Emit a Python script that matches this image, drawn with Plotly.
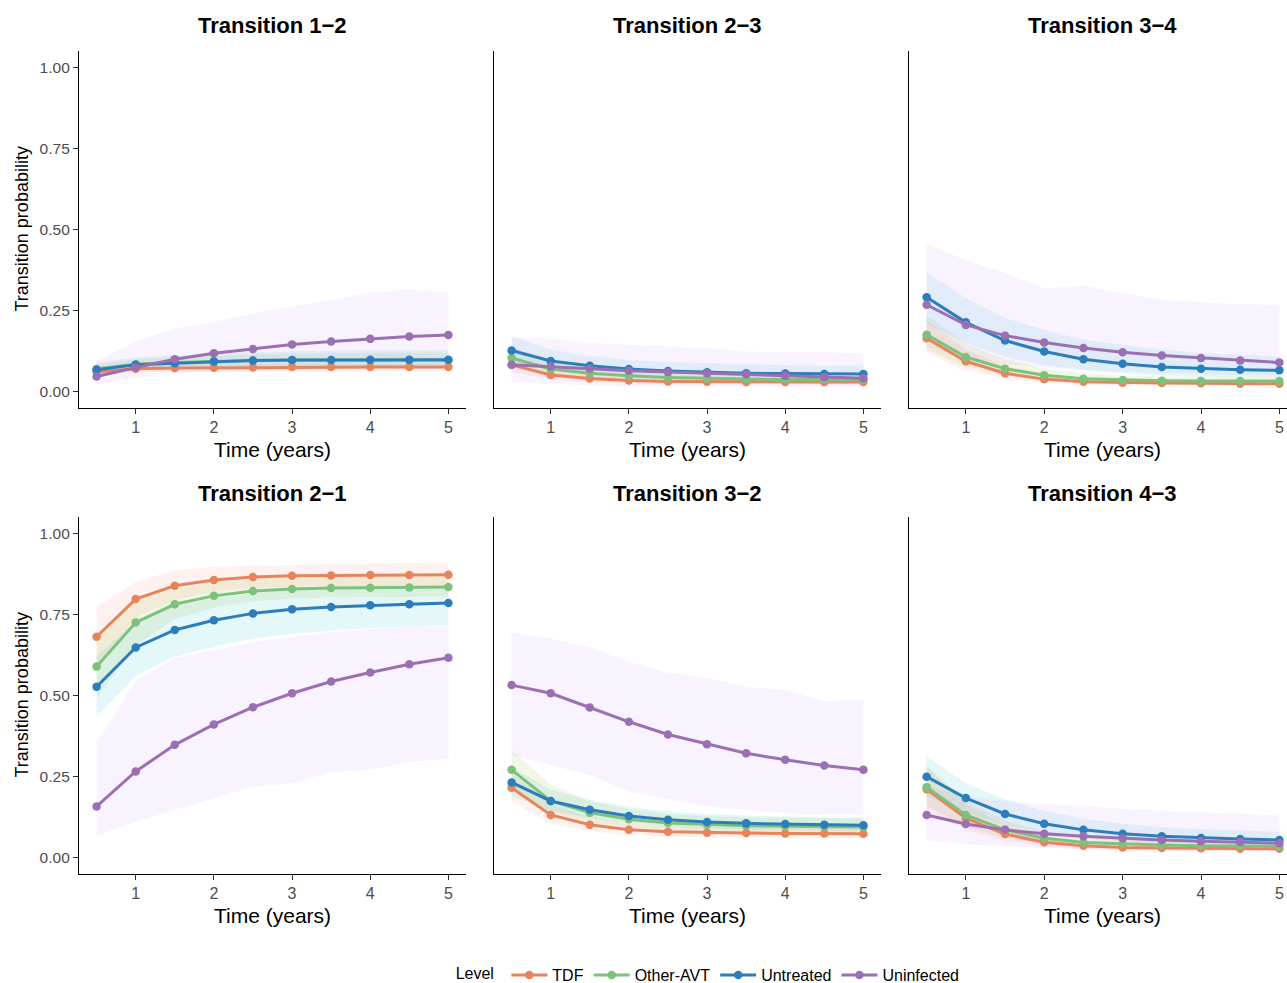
import plotly.graph_objects as go

time = [0.5, 1, 1.5, 2, 2.5, 3, 3.5, 4, 4.5, 5]
levels = ["TDF", "Other-AVT", "Untreated", "Uninfected"]
colors = ["#E8845C", "#7DC17C", "#2C7DBB", "#9B70B2"]
ribbon_colors = ["#F8766D", "#7CAE00", "#00BFC4", "#C77CFF"]
panel_titles = ["Transition 1\u22122", "Transition 2\u22123", "Transition 3\u22124",
                "Transition 2\u22121", "Transition 3\u22122", "Transition 4\u22123"]
x_ticks = [1, 2, 3, 4, 5]
y_ticks = [0, 0.25, 0.5, 0.75, 1.0]
y_tick_labels = ["0.00", "0.25", "0.50", "0.75", "1.00"]

# ---- Transition 1-2
t12_tdf = [0.062, 0.071, 0.073, 0.074, 0.075, 0.076, 0.076, 0.076, 0.076, 0.076]
t12_tdf_lo = [0.050, 0.060, 0.063, 0.064, 0.065, 0.065, 0.065, 0.065, 0.065, 0.065]
t12_tdf_hi = [0.075, 0.083, 0.085, 0.086, 0.087, 0.088, 0.088, 0.088, 0.088, 0.088]
t12_oth = [0.070, 0.085, 0.090, 0.094, 0.096, 0.097, 0.097, 0.097, 0.097, 0.097]
t12_oth_lo = [0.055, 0.070, 0.075, 0.078, 0.080, 0.080, 0.080, 0.080, 0.080, 0.080]
t12_oth_hi = [0.085, 0.100, 0.108, 0.113, 0.116, 0.118, 0.120, 0.120, 0.120, 0.120]
t12_unt = [0.068, 0.083, 0.088, 0.093, 0.096, 0.098, 0.098, 0.099, 0.099, 0.099]
t12_unt_lo = [0.050, 0.065, 0.070, 0.073, 0.075, 0.076, 0.076, 0.077, 0.077, 0.077]
t12_unt_hi = [0.090, 0.105, 0.112, 0.118, 0.122, 0.125, 0.127, 0.128, 0.128, 0.128]
t12_uni = [0.047, 0.075, 0.100, 0.119, 0.132, 0.146, 0.155, 0.163, 0.170, 0.175]
t12_uni_lo = [0.022, 0.045, 0.058, 0.063, 0.066, 0.068, 0.069, 0.070, 0.070, 0.070]
t12_uni_hi = [0.095, 0.155, 0.194, 0.216, 0.242, 0.262, 0.283, 0.306, 0.314, 0.306]

# ---- Transition 2-3
t23_tdf = [0.083, 0.052, 0.041, 0.035, 0.032, 0.031, 0.030, 0.030, 0.030, 0.030]
t23_tdf_lo = [0.060, 0.038, 0.030, 0.026, 0.024, 0.023, 0.022, 0.022, 0.022, 0.022]
t23_tdf_hi = [0.110, 0.070, 0.055, 0.047, 0.043, 0.041, 0.040, 0.040, 0.040, 0.040]
t23_oth = [0.104, 0.070, 0.057, 0.049, 0.044, 0.041, 0.039, 0.038, 0.037, 0.037]
t23_oth_lo = [0.075, 0.052, 0.042, 0.036, 0.032, 0.030, 0.029, 0.028, 0.028, 0.028]
t23_oth_hi = [0.140, 0.090, 0.075, 0.065, 0.058, 0.055, 0.052, 0.050, 0.049, 0.049]
t23_unt = [0.127, 0.095, 0.080, 0.070, 0.064, 0.060, 0.057, 0.056, 0.055, 0.055]
t23_unt_lo = [0.090, 0.068, 0.058, 0.050, 0.046, 0.043, 0.041, 0.040, 0.039, 0.039]
t23_unt_hi = [0.172, 0.130, 0.110, 0.098, 0.092, 0.088, 0.084, 0.082, 0.080, 0.080]
t23_uni = [0.083, 0.078, 0.071, 0.065, 0.061, 0.057, 0.054, 0.049, 0.045, 0.042]
t23_uni_lo = [0.030, 0.025, 0.020, 0.018, 0.017, 0.016, 0.015, 0.015, 0.015, 0.015]
t23_uni_hi = [0.167, 0.165, 0.150, 0.145, 0.140, 0.134, 0.124, 0.124, 0.122, 0.119]

# ---- Transition 3-4
t34_tdf = [0.165, 0.094, 0.057, 0.039, 0.031, 0.028, 0.027, 0.026, 0.025, 0.025]
t34_tdf_lo = [0.120, 0.065, 0.040, 0.028, 0.022, 0.020, 0.019, 0.018, 0.018, 0.018]
t34_tdf_hi = [0.220, 0.130, 0.080, 0.055, 0.044, 0.040, 0.038, 0.036, 0.035, 0.035]
t34_oth = [0.176, 0.107, 0.071, 0.051, 0.040, 0.036, 0.034, 0.033, 0.033, 0.033]
t34_oth_lo = [0.130, 0.077, 0.050, 0.036, 0.028, 0.025, 0.024, 0.023, 0.023, 0.023]
t34_oth_hi = [0.235, 0.148, 0.100, 0.072, 0.056, 0.050, 0.047, 0.046, 0.046, 0.046]
t34_unt = [0.291, 0.214, 0.158, 0.124, 0.100, 0.086, 0.076, 0.071, 0.068, 0.066]
t34_unt_lo = [0.210, 0.150, 0.108, 0.082, 0.066, 0.056, 0.050, 0.046, 0.044, 0.043]
t34_unt_hi = [0.368, 0.288, 0.227, 0.191, 0.160, 0.144, 0.130, 0.119, 0.113, 0.109]
t34_uni = [0.268, 0.206, 0.173, 0.152, 0.135, 0.122, 0.112, 0.104, 0.096, 0.090]
t34_uni_lo = [0.140, 0.100, 0.085, 0.075, 0.068, 0.062, 0.058, 0.054, 0.051, 0.050]
t34_uni_hi = [0.455, 0.406, 0.365, 0.319, 0.327, 0.304, 0.283, 0.275, 0.270, 0.268]

# ---- Transition 2-1
t21_tdf = [0.681, 0.797, 0.838, 0.856, 0.865, 0.869, 0.870, 0.871, 0.871, 0.872]
t21_tdf_lo = [0.590, 0.740, 0.795, 0.820, 0.830, 0.835, 0.837, 0.838, 0.838, 0.838]
t21_tdf_hi = [0.773, 0.850, 0.886, 0.896, 0.900, 0.903, 0.905, 0.907, 0.908, 0.910]
t21_oth = [0.589, 0.725, 0.781, 0.807, 0.822, 0.828, 0.831, 0.832, 0.833, 0.834]
t21_oth_lo = [0.490, 0.655, 0.735, 0.770, 0.790, 0.798, 0.802, 0.803, 0.804, 0.805]
t21_oth_hi = [0.680, 0.790, 0.830, 0.850, 0.860, 0.865, 0.867, 0.868, 0.869, 0.870]
t21_unt = [0.527, 0.648, 0.702, 0.732, 0.753, 0.766, 0.773, 0.778, 0.781, 0.785]
t21_unt_lo = [0.435, 0.560, 0.620, 0.650, 0.675, 0.690, 0.700, 0.708, 0.713, 0.716]
t21_unt_hi = [0.620, 0.730, 0.775, 0.800, 0.815, 0.825, 0.830, 0.832, 0.834, 0.835]
t21_uni = [0.158, 0.266, 0.348, 0.411, 0.464, 0.507, 0.543, 0.571, 0.596, 0.616]
t21_uni_lo = [0.069, 0.110, 0.148, 0.184, 0.219, 0.230, 0.264, 0.271, 0.296, 0.304]
t21_uni_hi = [0.353, 0.545, 0.615, 0.640, 0.665, 0.680, 0.695, 0.705, 0.710, 0.712]

# ---- Transition 3-2
t32_tdf = [0.216, 0.132, 0.102, 0.086, 0.080, 0.077, 0.076, 0.075, 0.075, 0.074]
t32_tdf_lo = [0.175, 0.105, 0.082, 0.070, 0.065, 0.063, 0.062, 0.061, 0.061, 0.061]
t32_tdf_hi = [0.260, 0.165, 0.125, 0.105, 0.098, 0.094, 0.092, 0.091, 0.090, 0.090]
t32_oth = [0.271, 0.175, 0.139, 0.119, 0.107, 0.102, 0.099, 0.097, 0.096, 0.095]
t32_oth_lo = [0.210, 0.140, 0.110, 0.095, 0.085, 0.080, 0.078, 0.077, 0.076, 0.075]
t32_oth_hi = [0.332, 0.225, 0.175, 0.150, 0.135, 0.128, 0.125, 0.123, 0.122, 0.121]
t32_unt = [0.232, 0.175, 0.148, 0.129, 0.117, 0.110, 0.106, 0.104, 0.102, 0.100]
t32_unt_lo = [0.190, 0.145, 0.122, 0.106, 0.096, 0.090, 0.086, 0.084, 0.083, 0.082]
t32_unt_hi = [0.280, 0.210, 0.178, 0.157, 0.143, 0.135, 0.130, 0.127, 0.125, 0.124]
t32_uni = [0.532, 0.507, 0.463, 0.419, 0.380, 0.350, 0.322, 0.302, 0.284, 0.271]
t32_uni_lo = [0.317, 0.286, 0.255, 0.204, 0.180, 0.158, 0.148, 0.137, 0.133, 0.133]
t32_uni_hi = [0.693, 0.676, 0.648, 0.604, 0.570, 0.553, 0.527, 0.517, 0.483, 0.486]

# ---- Transition 4-3
t43_tdf = [0.211, 0.122, 0.073, 0.048, 0.037, 0.032, 0.030, 0.029, 0.028, 0.028]
t43_tdf_lo = [0.150, 0.085, 0.052, 0.034, 0.026, 0.022, 0.021, 0.020, 0.020, 0.020]
t43_tdf_hi = [0.280, 0.165, 0.100, 0.066, 0.051, 0.045, 0.042, 0.040, 0.039, 0.039]
t43_oth = [0.217, 0.132, 0.086, 0.060, 0.047, 0.042, 0.039, 0.037, 0.036, 0.035]
t43_oth_lo = [0.160, 0.095, 0.062, 0.043, 0.034, 0.030, 0.028, 0.026, 0.025, 0.025]
t43_oth_hi = [0.285, 0.175, 0.115, 0.080, 0.064, 0.057, 0.053, 0.050, 0.049, 0.048]
t43_unt = [0.250, 0.184, 0.135, 0.105, 0.086, 0.074, 0.066, 0.061, 0.058, 0.055]
t43_unt_lo = [0.190, 0.140, 0.100, 0.075, 0.060, 0.051, 0.045, 0.041, 0.039, 0.037]
t43_unt_hi = [0.312, 0.230, 0.180, 0.145, 0.120, 0.105, 0.095, 0.088, 0.084, 0.080]
t43_uni = [0.132, 0.104, 0.086, 0.074, 0.066, 0.060, 0.055, 0.051, 0.049, 0.045]
t43_uni_lo = [0.055, 0.042, 0.035, 0.030, 0.027, 0.025, 0.023, 0.022, 0.021, 0.020]
t43_uni_hi = [0.220, 0.190, 0.175, 0.165, 0.160, 0.150, 0.145, 0.140, 0.135, 0.130]

panels = [
    [(t12_tdf, t12_tdf_lo, t12_tdf_hi), (t12_oth, t12_oth_lo, t12_oth_hi),
     (t12_unt, t12_unt_lo, t12_unt_hi), (t12_uni, t12_uni_lo, t12_uni_hi)],
    [(t23_tdf, t23_tdf_lo, t23_tdf_hi), (t23_oth, t23_oth_lo, t23_oth_hi),
     (t23_unt, t23_unt_lo, t23_unt_hi), (t23_uni, t23_uni_lo, t23_uni_hi)],
    [(t34_tdf, t34_tdf_lo, t34_tdf_hi), (t34_oth, t34_oth_lo, t34_oth_hi),
     (t34_unt, t34_unt_lo, t34_unt_hi), (t34_uni, t34_uni_lo, t34_uni_hi)],
    [(t21_tdf, t21_tdf_lo, t21_tdf_hi), (t21_oth, t21_oth_lo, t21_oth_hi),
     (t21_unt, t21_unt_lo, t21_unt_hi), (t21_uni, t21_uni_lo, t21_uni_hi)],
    [(t32_tdf, t32_tdf_lo, t32_tdf_hi), (t32_oth, t32_oth_lo, t32_oth_hi),
     (t32_unt, t32_unt_lo, t32_unt_hi), (t32_uni, t32_uni_lo, t32_uni_hi)],
    [(t43_tdf, t43_tdf_lo, t43_tdf_hi), (t43_oth, t43_oth_lo, t43_oth_hi),
     (t43_unt, t43_unt_lo, t43_unt_hi), (t43_uni, t43_uni_lo, t43_uni_hi)],
]

W, H = 1287, 983
FONT = "Liberation Sans, Arial, Helvetica, sans-serif"

# panel pixel boxes (left, right) and (top, bottom)
col_px = [(79, 466), (494, 881), (909, 1287)]
row_px = [(51, 408), (517, 874)]
x_ranges = [[0.275, 5.225], [0.275, 5.225], [0.275, 5.097]]


def rgba(hexc, a):
    h = hexc.lstrip("#")
    r, g, b = int(h[0:2], 16), int(h[2:4], 16), int(h[4:6], 16)
    return f"rgba({r},{g},{b},{a})"


fig = go.Figure()
layout = {}
annotations = []

for p in range(6):
    r, c = divmod(p, 3)
    idx = p + 1
    xa = "x" if idx == 1 else f"x{idx}"
    ya = "y" if idx == 1 else f"y{idx}"
    # ribbons
    for k, (est, lo, hi) in enumerate(panels[p]):
        fig.add_trace(go.Scatter(
            x=time + time[::-1], y=hi + lo[::-1], fill="toself",
            fillcolor=rgba(ribbon_colors[k], 0.1), line=dict(width=0),
            mode="lines", hoverinfo="skip", showlegend=False,
            xaxis=xa, yaxis=ya))
    # lines + points
    for k, (est, lo, hi) in enumerate(panels[p]):
        fig.add_trace(go.Scatter(
            x=time, y=est, mode="lines+markers", name=levels[k],
            line=dict(color=colors[k], width=3),
            marker=dict(color=colors[k], size=8.5),
            legendgroup=levels[k], showlegend=(p == 0),
            xaxis=xa, yaxis=ya))

    xl, xr = col_px[c]
    yt, yb = row_px[r]
    layout["xaxis" if idx == 1 else f"xaxis{idx}"] = dict(
        domain=[xl / W, xr / W], range=x_ranges[c], anchor=ya,
        tickvals=x_ticks, ticks="outside", ticklen=5, tickcolor="#333333",
        tickfont=dict(family=FONT, size=16, color="#4D4D4D"),
        ticklabeloverflow="allow",
        showline=True, linecolor="black", linewidth=1.3, showgrid=False,
        zeroline=False, fixedrange=True)
    layout["yaxis" if idx == 1 else f"yaxis{idx}"] = dict(
        domain=[1 - yb / H, 1 - yt / H], range=[-0.05, 1.05], anchor=xa,
        tickvals=y_ticks if c == 0 else [], ticktext=y_tick_labels if c == 0 else [],
        ticks="outside" if c == 0 else "", ticklen=5, tickcolor="#333333",
        tickfont=dict(family=FONT, size=15.5, color="#4D4D4D"),
        showticklabels=(c == 0),
        showline=True, linecolor="black", linewidth=1.3, showgrid=False,
        zeroline=False, fixedrange=True)

    xr_full = xr if c < 2 else 1296
    # panel title
    annotations.append(dict(
        text=f"<b>{panel_titles[p]}</b>", x=(xl + xr_full) / 2 / W,
        y=1 - (26 if r == 0 else 493) / H, xref="paper", yref="paper",
        showarrow=False, xanchor="center", yanchor="middle",
        font=dict(family=FONT, size=22, color="black")))
    # x title
    annotations.append(dict(
        text="Time (years)", x=(xl + xr_full) / 2 / W,
        y=1 - (449 if r == 0 else 915) / H, xref="paper", yref="paper",
        showarrow=False, xanchor="center", yanchor="middle",
        font=dict(family=FONT, size=21, color="black")))

for r in range(2):
    yt, yb = row_px[r]
    annotations.append(dict(
        text="Transition probability", x=21 / W, y=1 - (yt + yb) / 2 / H,
        xref="paper", yref="paper", textangle=-90, showarrow=False,
        xanchor="center", yanchor="middle",
        font=dict(family=FONT, size=18, color="black")))

fig.update_layout(
    width=W, height=H, margin=dict(l=0, r=0, t=0, b=0, autoexpand=False),
    plot_bgcolor="white", paper_bgcolor="white",
    annotations=annotations,
    legend=dict(orientation="h", x=0.551, xanchor="center", y=1 - 975 / H, yanchor="middle",
                title=dict(text="Level ", font=dict(family=FONT, size=16, color="black")),
                font=dict(family=FONT, size=16, color="black"),
                itemwidth=36, tracegroupgap=0),
    **layout)

post = (
    "var gd=document.getElementById('{plot_id}');"
    "document.documentElement.style.margin='0';"
    "document.body.style.margin='0';"
    "document.documentElement.style.overflow='hidden';"
    "document.body.style.overflow='hidden';"
    "gd.style.position='fixed';gd.style.left='0px';gd.style.top='0px';"
)

fig.write_html("out.html", config={"displayModeBar": False}, post_script=post)
